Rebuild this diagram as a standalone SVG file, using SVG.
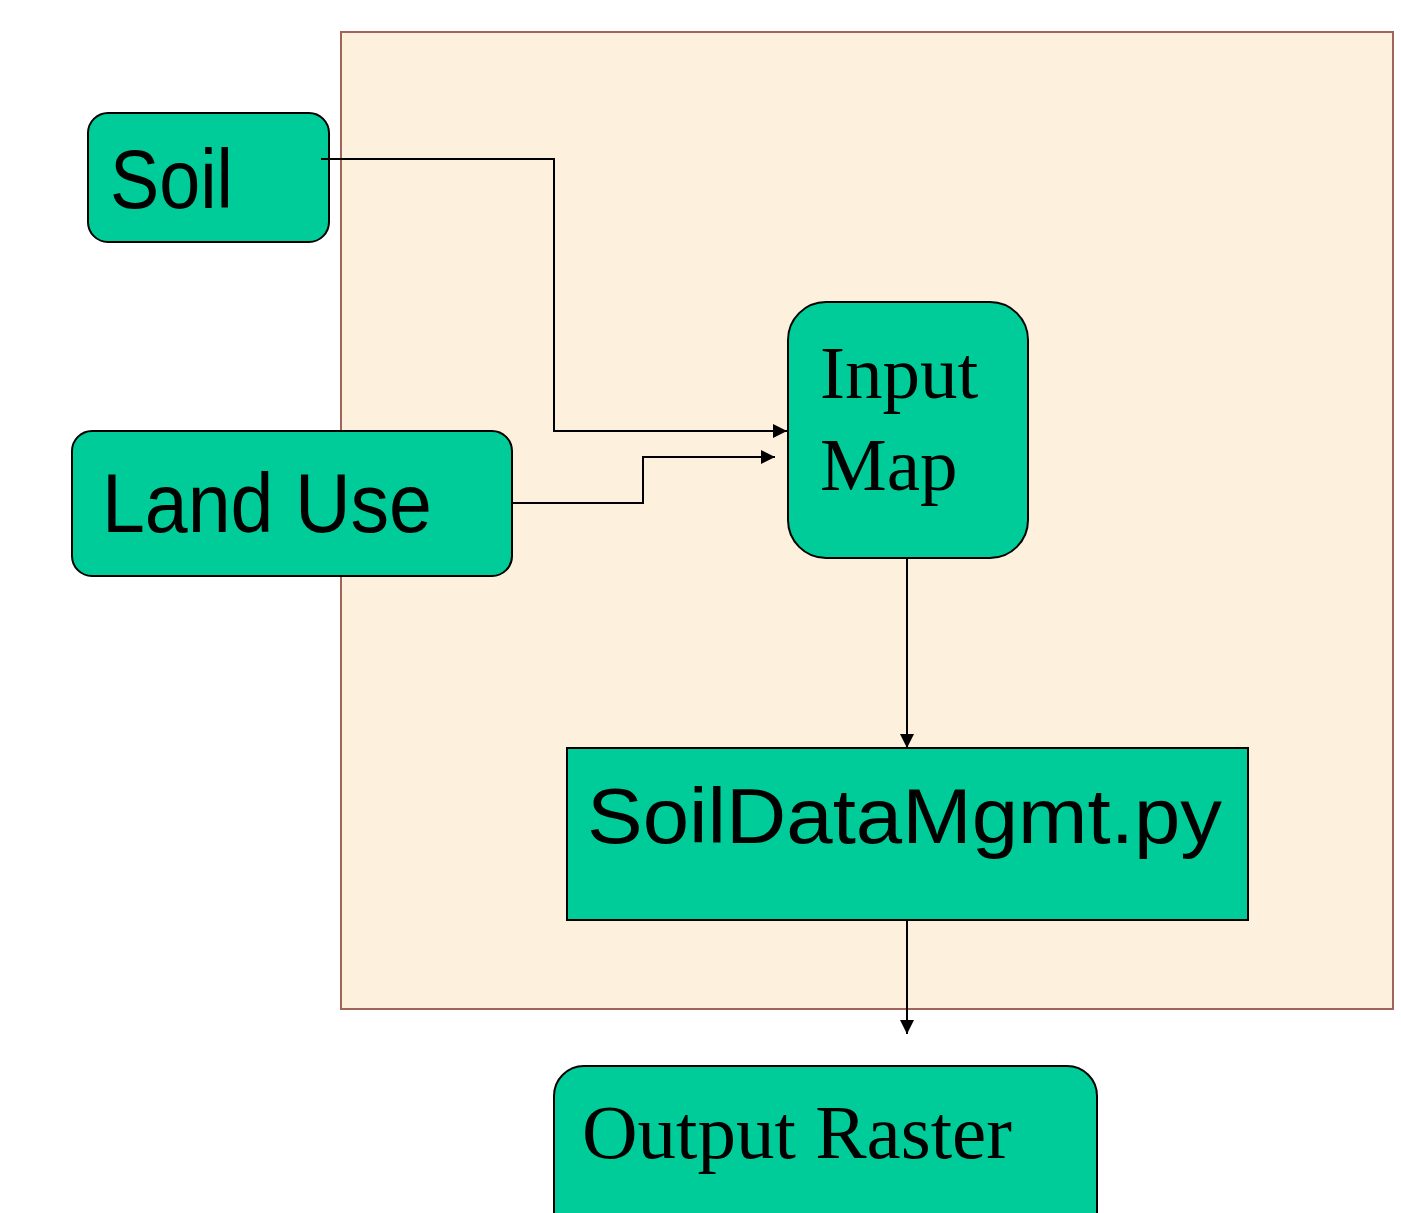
<svg xmlns="http://www.w3.org/2000/svg" width="1401" height="1213" viewBox="0 0 1401 1213">
<defs>
<style>
.node{fill:#00cc99;stroke:#000;stroke-width:2}
.sans{font-family:"Liberation Sans",Arial,sans-serif;fill:#000}
.serif{font-family:"Liberation Serif","Times New Roman",serif;fill:#000}
.conn{fill:none;stroke:#000;stroke-width:2}
</style>
<marker id="arr" viewBox="0 0 10 10" refX="10" refY="5" markerWidth="14" markerHeight="14" markerUnits="userSpaceOnUse" orient="auto">
<path d="M0,0 L10,5 L0,10 z" fill="#000"/>
</marker>
</defs>
<rect width="1401" height="1213" fill="#fff"/>
<rect id="container" x="341" y="32" width="1052" height="977" fill="#fdf1de" stroke="#a0645a" stroke-width="2"/>
<g id="soil">
<rect class="node" x="88" y="113" width="241" height="129" rx="20"/>
<text class="sans" x="110" y="208" font-size="84" textLength="123" lengthAdjust="spacingAndGlyphs">Soil</text>
</g>
<g id="landuse">
<rect class="node" x="72" y="431" width="440" height="145" rx="20"/>
<text class="sans" x="102" y="532" font-size="84" textLength="330" lengthAdjust="spacingAndGlyphs">Land Use</text>
</g>
<g id="inputmap">
<rect class="node" x="788" y="302" width="240" height="256" rx="38"/>
<text class="serif" x="820" y="398" font-size="75">Input</text>
<text class="serif" x="820" y="490" font-size="75">Map</text>
</g>
<g id="soildatamgmt">
<rect class="node" x="567" y="748" width="681" height="172"/>
<text class="sans" x="587" y="843" font-size="78" textLength="635" lengthAdjust="spacingAndGlyphs">SoilDataMgmt.py</text>
</g>
<g id="output">
<rect class="node" x="554" y="1066" width="543" height="180" rx="30"/>
<text class="serif" x="582" y="1158" font-size="77">Output Raster</text>
</g>
<g id="connectors">
<polyline class="conn" points="321,159 554,159 554,431 787,431" marker-end="url(#arr)"/>
<polyline class="conn" points="512,503 643,503 643,457 775,457" marker-end="url(#arr)"/>
<line class="conn" x1="907" y1="558" x2="907" y2="748" marker-end="url(#arr)"/>
<line class="conn" x1="907" y1="920" x2="907" y2="1034" marker-end="url(#arr)"/>
</g>
</svg>
